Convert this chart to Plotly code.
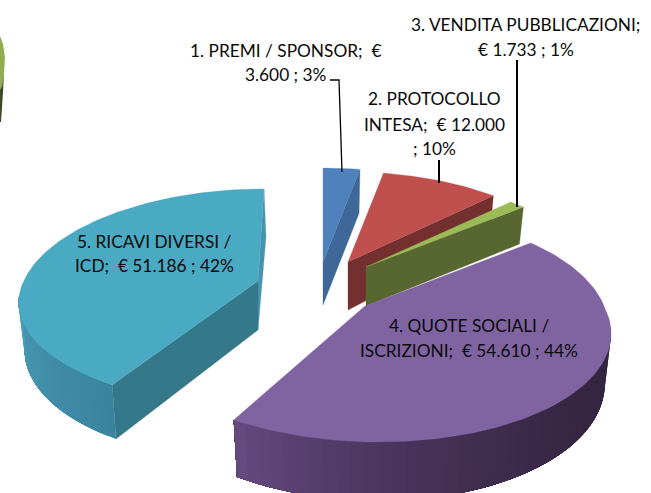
import math
import plotly.graph_objects as go

# ---- data ----
CATEGORIES = ["1. PREMI / SPONSOR", "2. PROTOCOLLO INTESA", "3. VENDITA PUBBLICAZIONI",
              "4. QUOTE SOCIALI / ISCRIZIONI", "5. RICAVI DIVERSI / ICD"]
VALUES = [3600, 12000, 1733, 54610, 51186]
LABEL_LINES = [
    ["1. PREMI / SPONSOR;  €", "3.600 ; 3%"],
    ["2. PROTOCOLLO", "INTESA;  € 12.000", "; 10%"],
    ["3. VENDITA PUBBLICAZIONI;", "€ 1.733 ; 1%"],
    ["4. QUOTE SOCIALI /", "ISCRIZIONI;  € 54.610 ; 44%"],
    ["5. RICAVI DIVERSI /", "ICD;  € 51.186 ; 42%"],
]
TOP_COLORS = ["#4f81bd", "#c0504d", "#9bbb59", "#8064a2", "#4aa9c3"]
CUT_COLORS = ["#3e6897", "#73302e", "#58662f", "#5d4578", "#35788a"]

# ---- 3-D projection settings (pixel space) ----
W, H = 651, 493
R, K, P = 239.0, 0.465, 0.183
DEPTH = 48.0
SHRINK = 0.975
APEX = [(323, 262), (348, 262), (366, 267), (365, 306), (258, 281)]
SCALE = [1.0, 0.96, 0.95, 1.0, 0.98]
DEPTH_K = [1.08, 0.95, 0.86, 1.0, 0.95]
APEX_DEPTH = [43, 48, 39, 50, 49]
SKEW_FAR = [0, 0, 0, 0, 6]
SKEW_NEAR = [0, 0, 0, 14, -6]
Y_NEAR = [1, 1, 1, 1, 0.93]
LABEL_POS = [
    (285.5, [50, 74]),
    (434, [98, 124, 148]),
    (525.5, [24, 49]),
    (468.5, [325, 350]),
    (154, [241, 265]),
]
LEADERS = [
    ([330, 339, 342], [80, 80, 172], 1.3),
    ([439, 439], [160, 183], 2),
    ([517, 517], [60, 207], 2),
]


def rad(deg):
    return math.radians(deg)


def top(i, theta):
    u, v = math.sin(rad(theta)), math.cos(rad(theta))
    d = 1 + P * v
    s = SCALE[i]
    skew = SKEW_FAR[i] * max(v, 0) + SKEW_NEAR[i] * max(-v, 0)
    yk = Y_NEAR[i] if v < 0 else 1
    return APEX[i][0] + s * R * u / d + skew, APEX[i][1] - yk * s * R * K * v / d


def bottom(i, theta):
    x, y = top(i, theta)
    v = math.cos(rad(theta))
    return APEX[i][0] + (x - APEX[i][0]) * SHRINK, y + DEPTH_K[i] * DEPTH / (1 + P * v)


def apex_bottom(i):
    return APEX[i][0], APEX[i][1] + APEX_DEPTH[i]


def poly(fig, pts, color, lw=0.0):
    xs = [p[0] for p in pts] + [pts[0][0]]
    ys = [p[1] for p in pts] + [pts[0][1]]
    fig.add_trace(go.Scatter(x=xs, y=ys, mode="lines", fill="toself", fillcolor=color,
                             line=dict(color=color, width=lw), hoverinfo="skip",
                             showlegend=False))


def lerp(c1, c2, t):
    a = [int(c1[j:j + 2], 16) for j in (1, 3, 5)]
    b = [int(c2[j:j + 2], 16) for j in (1, 3, 5)]
    return "#%02x%02x%02x" % tuple(round(a[k] + (b[k] - a[k]) * t) for k in range(3))


total = sum(VALUES)
angles = [0.0]
for val in VALUES:
    angles.append(angles[-1] + 360.0 * val / total)

fig = go.Figure()


def cut_face(i, theta, color):
    poly(fig, [APEX[i], top(i, theta), bottom(i, theta), apex_bottom(i)], color, 0.3)


def arc(i, a, b, n=60):
    return [top(i, a + (b - a) * j / n) for j in range(n + 1)]


def rim(i, a, b, c1, c2, n=24, power=1.0):
    # each band runs on to the end of the rim, so no white seam shows between bands
    for j in range(n):
        t0 = a + (b - a) * j / n
        up = arc(i, t0, b, 40)
        low = [bottom(i, t0 + (b - t0) * q / 40) for q in range(41)]
        poly(fig, up + low[::-1], lerp(c1, c2, (j / (n - 1)) ** power), 0)


# blue, red, green: far slices
for i in (0, 1, 2):
    cut_face(i, angles[i + 1], CUT_COLORS[i])
    poly(fig, [APEX[i]] + arc(i, angles[i], angles[i + 1]), TOP_COLORS[i], 0.3)

# teal
i = 4
poly(fig, [top(i, 0), (top(i, 0)[0] + 2, top(i, 0)[1] + 48), apex_bottom(i), APEX[i]], "#4595ad", 0.3)
rim(i, angles[i], 262, "#3a84a0", "#4a9cb6")
cut_face(i, angles[i], CUT_COLORS[i])
poly(fig, [APEX[i]] + arc(i, angles[i], angles[i + 1], 120), TOP_COLORS[i], 0.3)

# purple
i = 3
rim(i, 100, angles[i + 1], "#33243f", "#65497f", 40, 2.2)
poly(fig, [APEX[i]] + arc(i, angles[i], angles[i + 1], 120), TOP_COLORS[i], 0.3)

# leader lines
for lx, ly, lw in LEADERS:
    fig.add_trace(go.Scatter(x=lx, y=ly, mode="lines", line=dict(color="#000000", width=lw),
                             hoverinfo="skip", showlegend=False))

# labels
for lines, (cx, ys) in zip(LABEL_LINES, LABEL_POS):
    for line, y in zip(lines, ys):
        fig.add_annotation(x=cx, y=y, text=line, showarrow=False, xanchor="center",
                           yanchor="middle", font=dict(family="Lato", size=17.3, color="#0a0a0a"))

# sliver of a cropped graphic on the left edge of the picture
shapes = [
    dict(type="path", path="M0,36 L3,44 L5,58 L4,72 L2,86 L0,90 Z", fillcolor="#8fae50", line_width=0,
         xref="x", yref="y", layer="above"),
    dict(type="path", path="M4,72 L3,92 L1,122 L0,122 L0,90 L2,86 Z", fillcolor="#3b4a22", line_width=0,
         xref="x", yref="y", layer="above"),
]

fig.update_layout(
    width=W, height=H, margin=dict(l=0, r=0, t=0, b=0), autosize=False,
    paper_bgcolor="#ffffff", plot_bgcolor="#ffffff", showlegend=False, shapes=shapes,
    xaxis=dict(range=[0, W], visible=False, fixedrange=True),
    yaxis=dict(range=[H, 0], visible=False, fixedrange=True),
)
fig.write_html("out.html", config=dict(displayModeBar=False),
               post_script="document.body.style.margin='0';document.body.style.overflow='hidden';")
